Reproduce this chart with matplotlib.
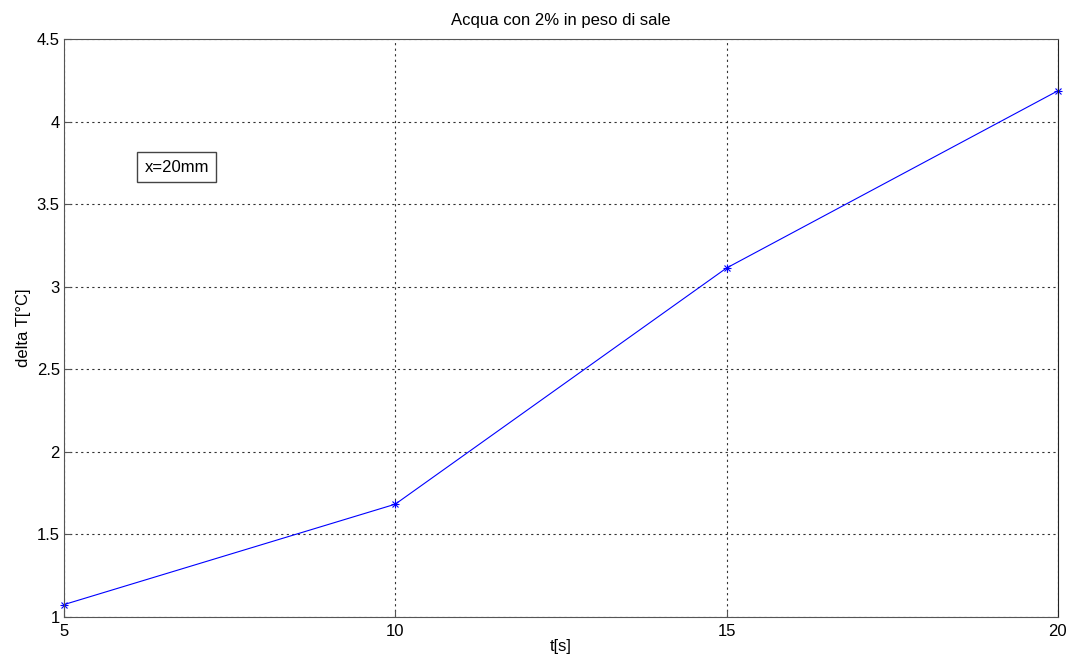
import numpy as np
import matplotlib
matplotlib.use("Agg")
import matplotlib.pyplot as plt

plt.rcParams['font.family'] = ['Liberation Sans', 'DejaVu Sans']

# data
t_s = [5, 10, 15, 20]
delta_T = [1.075, 1.683, 3.113, 4.186]
x_ticks = [5, 10, 15, 20]
y_ticks = [1, 1.5, 2, 2.5, 3, 3.5, 4, 4.5]

fig = plt.figure(figsize=(10.75, 6.61), dpi=100)
ax = fig.add_axes([0.0595, 0.0666, 0.9245, 0.8744])

# MATLAB-style asterisk marker: line plus '+' and 'x' overlaid
ax.plot(t_s, delta_T, color='blue', linewidth=0.8, clip_on=False)
ax.plot(t_s, delta_T, color='blue', linestyle='none', marker='+', markersize=6, markeredgewidth=0.8, clip_on=False)
ax.plot(t_s, delta_T, color='blue', linestyle='none', marker='x', markersize=4.5, markeredgewidth=0.8, clip_on=False)

ax.set_xlim(5, 20)
ax.set_ylim(1, 4.5)
ax.set_xticks(x_ticks)
ax.set_yticks(y_ticks)
ax.set_yticklabels(['1', '1.5', '2', '2.5', '3', '3.5', '4', '4.5'])
ax.tick_params(direction='in', length=5, labelsize=12, color='#555555')
ax.tick_params(axis='x', pad=5)
ax.tick_params(axis='y', pad=3)
ax.grid(True, linestyle=(0, (2, 3)), color='#333333', linewidth=0.8)
for s in ax.spines.values():
    s.set_color('#555555')
ax.spines['right'].set_color('#222222')

ax.set_title('Acqua con 2% in peso di sale', fontsize=12, pad=10)
ax.set_xlabel('t[s]', fontsize=12, labelpad=0)
ax.set_ylabel('delta T[°C]', fontsize=12, labelpad=4)

ax.text(0.081, 0.778, 'x=20mm', transform=ax.transAxes, fontsize=12, va='center', ha='left',
        bbox=dict(boxstyle='square,pad=0.45', facecolor='white', edgecolor='#444444', linewidth=1))

fig.savefig('out.png', dpi=100)
